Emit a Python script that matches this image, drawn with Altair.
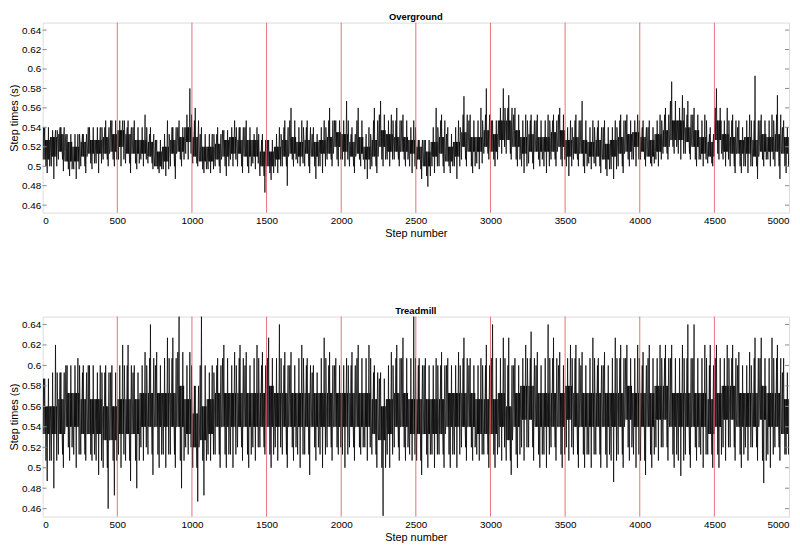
import altair as alt
import pandas as pd

# ---- values: per 50-step bin (100 bins) ----
# Overground: dense core edges, typical excursions, extreme spikes
og_core_hi = [.527,.530,.533,.525,.520,.525,.527,.527,.530,.533,
              .537,.533,.527,.527,.525,.515,.520,.527,.530,.540,
              .530,.520,.520,.523,.527,.530,.527,.527,.527,.515,
              .515,.520,.527,.530,.525,.527,.525,.527,.530,.535,
              .533,.525,.530,.520,.527,.537,.533,.530,.530,.527,
              .520,.515,.525,.530,.520,.525,.535,.530,.530,.537,
              .533,.547,.547,.537,.530,.533,.530,.530,.535,.537,
              .527,.530,.527,.525,.527,.523,.527,.530,.533,.535,
              .530,.527,.533,.537,.547,.547,.540,.537,.530,.525,
              .547,.533,.530,.527,.530,.527,.533,.530,.533,.530]
og_core_lo = [.507,.510,.515,.505,.505,.510,.513,.513,.513,.515,
              .520,.513,.513,.513,.510,.500,.505,.513,.515,.525,
              .510,.505,.505,.507,.510,.513,.513,.510,.510,.500,
              .500,.507,.510,.513,.510,.513,.510,.513,.513,.520,
              .515,.510,.513,.507,.510,.520,.515,.515,.515,.513,
              .507,.500,.510,.513,.505,.510,.520,.515,.515,.520,
              .515,.527,.527,.520,.513,.515,.515,.515,.515,.520,
              .510,.513,.513,.510,.510,.507,.510,.513,.515,.520,
              .515,.510,.515,.520,.527,.527,.525,.520,.513,.510,
              .527,.515,.513,.513,.513,.510,.515,.515,.515,.513]
og_mid_hi = [.540,.537,.540,.533,.533,.533,.540,.540,.540,.547,
             .547,.540,.540,.540,.533,.527,.533,.540,.540,.553,
             .547,.533,.533,.533,.537,.540,.540,.540,.533,.527,
             .527,.533,.540,.547,.540,.540,.533,.540,.547,.547,
             .547,.533,.547,.533,.547,.553,.547,.547,.547,.540,
             .527,.527,.540,.547,.533,.540,.553,.547,.547,.553,
             .547,.560,.560,.553,.547,.547,.547,.547,.547,.553,
             .540,.547,.547,.540,.540,.540,.540,.547,.547,.547,
             .540,.540,.547,.553,.567,.560,.553,.553,.547,.533,
             .560,.547,.547,.540,.547,.547,.547,.547,.553,.540]
og_mid_lo = [.500,.500,.507,.497,.497,.500,.503,.503,.507,.507,
             .507,.503,.503,.507,.503,.497,.497,.500,.507,.513,
             .503,.497,.497,.500,.500,.507,.500,.500,.503,.490,
             .493,.500,.500,.507,.503,.500,.500,.500,.507,.507,
             .507,.500,.507,.497,.500,.507,.507,.507,.507,.500,
             .497,.490,.500,.500,.500,.500,.507,.500,.503,.513,
             .507,.520,.513,.507,.500,.503,.507,.500,.507,.507,
             .500,.507,.500,.503,.500,.497,.497,.500,.507,.507,
             .507,.503,.507,.513,.520,.513,.513,.507,.507,.503,
             .513,.507,.500,.500,.500,.500,.507,.507,.500,.500]
og_spike_hi = [.540,.537,.540,.533,.533,.533,.540,.540,.547,.547,
               .547,.547,.547,.553,.540,.527,.547,.540,.547,.580,
               .560,.540,.533,.540,.537,.547,.540,.547,.540,.533,
               .527,.540,.547,.560,.547,.547,.540,.547,.560,.547,
               .567,.540,.560,.540,.560,.567,.553,.560,.553,.547,
               .527,.527,.560,.553,.540,.547,.572,.553,.560,.580,
               .547,.580,.573,.560,.553,.553,.553,.553,.553,.560,
               .547,.553,.567,.547,.547,.547,.547,.553,.553,.553,
               .547,.547,.553,.560,.587,.573,.567,.560,.553,.540,
               .580,.560,.553,.547,.553,.593,.553,.553,.573,.547]
og_spike_lo = [.493,.487,.495,.490,.487,.493,.497,.493,.500,.500,
               .500,.493,.497,.500,.497,.493,.490,.487,.500,.507,
               .500,.493,.493,.493,.490,.500,.493,.493,.497,.473,
               .486,.493,.480,.500,.500,.493,.487,.493,.500,.500,
               .500,.493,.500,.487,.493,.500,.500,.500,.500,.493,
               .487,.479,.493,.493,.493,.487,.500,.493,.497,.507,
               .500,.513,.507,.500,.493,.497,.500,.493,.500,.500,
               .490,.500,.493,.497,.493,.490,.487,.493,.500,.500,
               .500,.500,.500,.507,.513,.507,.507,.500,.500,.500,
               .507,.500,.493,.493,.493,.487,.500,.500,.487,.493]

# Treadmill
tm_core_hi = [.560,.560,.567,.573,.573,.567,.567,.567,.560,.560,
              .567,.567,.567,.573,.573,.573,.573,.573,.580,.567,
              .553,.560,.567,.573,.573,.573,.573,.573,.573,.573,
              .580,.573,.573,.573,.573,.573,.573,.573,.573,.573,
              .573,.573,.573,.573,.567,.560,.567,.573,.573,.567,
              .567,.567,.567,.567,.573,.573,.573,.573,.567,.567,
              .567,.573,.560,.573,.580,.580,.573,.573,.573,.573,
              .580,.573,.573,.573,.573,.573,.573,.573,.580,.573,
              .573,.573,.580,.580,.573,.573,.573,.573,.573,.567,
              .573,.580,.580,.573,.573,.573,.580,.573,.573,.567]
tm_core_lo = [.533,.533,.533,.540,.540,.533,.533,.533,.527,.527,
              .533,.533,.533,.540,.540,.540,.540,.540,.540,.533,
              .520,.527,.533,.540,.540,.540,.540,.540,.540,.540,
              .540,.540,.540,.540,.540,.540,.540,.540,.540,.540,
              .540,.540,.540,.540,.533,.527,.533,.540,.540,.533,
              .533,.533,.533,.533,.540,.540,.540,.540,.533,.533,
              .533,.540,.527,.540,.547,.547,.540,.540,.540,.540,
              .547,.540,.540,.540,.540,.540,.540,.540,.547,.540,
              .540,.540,.547,.547,.540,.540,.540,.540,.540,.533,
              .540,.547,.547,.540,.540,.540,.547,.540,.540,.533]
tm_mid_hi = [.587,.593,.593,.600,.600,.593,.600,.593,.593,.593,
             .600,.600,.593,.600,.607,.600,.607,.607,.613,.600,
             .580,.600,.593,.600,.607,.600,.607,.600,.607,.600,
             .607,.607,.600,.600,.607,.600,.593,.607,.600,.600,
             .600,.600,.607,.607,.593,.587,.600,.607,.607,.607,
             .600,.600,.600,.600,.600,.600,.607,.600,.600,.600,
             .607,.607,.600,.600,.607,.607,.600,.607,.607,.600,
             .607,.607,.600,.607,.600,.600,.607,.607,.607,.607,
             .600,.607,.607,.607,.607,.607,.607,.607,.607,.600,
             .607,.607,.607,.600,.600,.607,.607,.607,.607,.593]
tm_mid_lo = [.507,.507,.513,.520,.513,.513,.513,.507,.500,.507,
             .513,.507,.507,.520,.513,.513,.513,.513,.507,.520,
             .500,.507,.513,.513,.513,.513,.520,.513,.520,.520,
             .513,.520,.513,.520,.513,.513,.520,.513,.520,.520,
             .513,.520,.520,.520,.513,.500,.513,.520,.520,.513,
             .507,.513,.513,.513,.513,.513,.520,.520,.513,.513,
             .513,.520,.507,.513,.520,.520,.513,.513,.520,.513,
             .520,.513,.513,.513,.513,.513,.507,.513,.520,.513,
             .507,.513,.520,.520,.513,.507,.513,.520,.513,.513,
             .513,.520,.520,.513,.520,.520,.507,.513,.520,.513]
tm_spike_hi = [.587,.620,.593,.600,.607,.600,.600,.600,.600,.600,
               .620,.620,.600,.613,.640,.613,.627,.627,.648,.613,
               .580,.648,.600,.607,.620,.613,.620,.613,.620,.613,
               .627,.640,.613,.613,.620,.607,.600,.627,.613,.607,
               .607,.613,.620,.620,.600,.593,.613,.620,.627,.648,
               .607,.607,.607,.613,.607,.613,.627,.607,.607,.620,
               .640,.627,.627,.607,.620,.633,.613,.640,.627,.613,
               .620,.620,.613,.627,.607,.613,.627,.620,.620,.620,
               .613,.620,.620,.620,.620,.620,.640,.640,.620,.620,
               .620,.620,.620,.613,.613,.627,.627,.627,.620,.607]
tm_spike_lo = [.487,.480,.500,.507,.500,.507,.507,.493,.460,.473,
               .500,.487,.480,.507,.493,.500,.500,.500,.480,.513,
               .467,.473,.507,.500,.500,.500,.507,.500,.507,.513,
               .500,.507,.500,.507,.500,.493,.507,.500,.507,.513,
               .500,.507,.513,.507,.500,.453,.500,.507,.507,.507,
               .493,.500,.500,.500,.500,.500,.507,.507,.507,.500,
               .500,.507,.493,.500,.507,.507,.500,.500,.507,.500,
               .507,.500,.500,.500,.500,.500,.486,.500,.507,.500,
               .493,.500,.507,.507,.500,.492,.500,.507,.500,.500,
               .500,.507,.507,.500,.507,.507,.485,.500,.507,.513]

BIN = 50
marker_steps = [500, 1000, 1500, 2000, 2500, 3000, 3500, 4000, 4500]
x_ticks = [0, 500, 1000, 1500, 2000, 2500, 3000, 3500, 4000, 4500, 5000]
y_ticks = [0.46, 0.48, 0.50, 0.52, 0.54, 0.56, 0.58, 0.60, 0.62, 0.64]
y_domain = [0.4523, 0.6477]

# orders in which the read levels are visited inside a bin when tracing the line
ORDERS = [
    ["cl", "ch", "mh", "cl", "ch", "hi", "cl", "ch", "ml", "ch",
     "cl", "lo", "ch", "cl", "mh", "cl", "ch", "ml"],
    ["cl", "ch", "cl", "ml", "ch", "cl", "mh", "cl", "ch", "lo",
     "ch", "cl", "ch", "hi", "cl", "ch", "ml", "mh"],
    ["ch", "cl", "ml", "ch", "cl", "ch", "mh", "cl", "hi", "cl",
     "ch", "cl", "ml", "ch", "lo", "ch", "mh", "cl"],
]


def trace(chi, clo, mhi, mlo, shi, slo):
    rows = []
    for b in range(len(chi)):
        lv = {"ch": chi[b], "cl": clo[b], "mh": mhi[b], "ml": mlo[b],
              "hi": shi[b], "lo": slo[b]}
        order = ORDERS[b % len(ORDERS)]
        for k, key in enumerate(order):
            rows.append({"step": b * BIN + k * BIN / len(order), "t": lv[key]})
    rows.append({"step": len(chi) * BIN, "t": clo[-1]})
    return pd.DataFrame(rows)


W = 754
FONT = "Liberation Sans"

XS = alt.Scale(domain=[0, 5000], nice=False, zero=False)
YS = alt.Scale(domain=y_domain, nice=False, zero=False)
XAX = alt.Axis(values=x_ticks, title="Step number", format="d",
               grid=False, ticks=False, domain=False,
               labelPadding=3, titlePadding=2,
               titleFontWeight="normal", labelOverlap=False)
YAX = alt.Axis(values=y_ticks, title="Step times (s)", format="~g",
               grid=False, ticks=False, domain=False,
               labelPadding=2, titlePadding=2,
               titleFontWeight="normal", labelOverlap=False)


def panel(df, title, h):
    line = alt.Chart(df).mark_line(color="black", strokeWidth=0.75, clip=True).encode(
        x=alt.X("step:Q", scale=XS, axis=XAX, title="Step number"),
        y=alt.Y("t:Q", scale=YS, axis=YAX, title="Step times (s)"),
    )
    marks = alt.Chart(pd.DataFrame({"m": marker_steps})).mark_rule(
        color="#d9505c", strokeWidth=1, opacity=0.8
    ).encode(x=alt.X("m:Q", scale=XS, axis=XAX, title="Step number"))
    tk = pd.DataFrame({"v": y_ticks})
    lt = alt.Chart(tk).mark_rule(color="#888", strokeWidth=1).encode(
        y=alt.Y("v:Q", scale=YS, axis=YAX, title="Step times (s)"),
        x=alt.value(0), x2=alt.value(4))
    rt = alt.Chart(tk).mark_rule(color="#888", strokeWidth=1).encode(
        y=alt.Y("v:Q", scale=YS, axis=YAX, title="Step times (s)"),
        x=alt.value(W - 4), x2=alt.value(W))
    return alt.layer(line, marks, lt, rt).properties(
        width=W, height=h,
        title=alt.TitleParams(title, fontSize=9.5, fontWeight="bold", font=FONT,
                              offset=1, color="black"),
    )


top = panel(trace(og_core_hi, og_core_lo, og_mid_hi, og_mid_lo,
                  og_spike_hi, og_spike_lo), "Overground", 192)
bottom = panel(trace(tm_core_hi, tm_core_lo, tm_mid_hi, tm_mid_lo,
                     tm_spike_hi, tm_spike_lo), "Treadmill", 202)

chart = alt.vconcat(top, bottom, spacing=66).properties(
    padding={"left": 0, "top": 0, "right": 2, "bottom": 0}
).configure_view(stroke="#999", strokeWidth=1).configure_axis(
    labelFont=FONT, titleFont=FONT, labelFontSize=9.5, titleFontSize=9.5,
    labelColor="#222", titleColor="#222"
).configure(background="white")

chart.save("out.html", embed_options={"renderer": "svg", "actions": False})
